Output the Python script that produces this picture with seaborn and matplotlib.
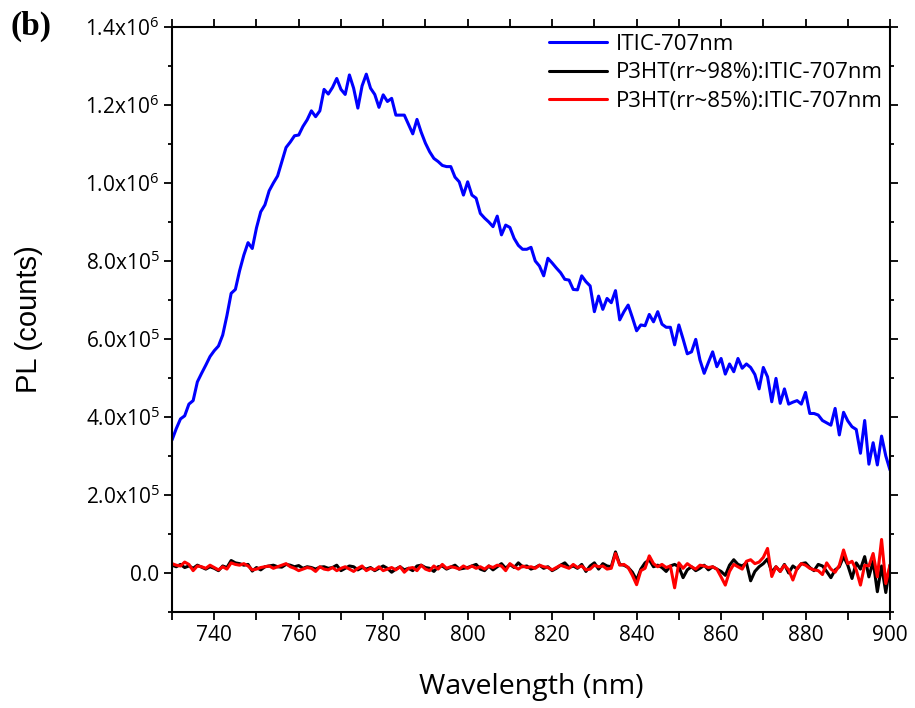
import matplotlib
matplotlib.use("Agg")
import numpy as np
import pandas as pd
import matplotlib.pyplot as plt
import matplotlib.ticker as mticker
import seaborn as sns

# wavelength grid (nm)
wavelength = list(range(730, 901))

# ITIC-707nm PL, in units of 1e5 counts (730..900 nm)
itic = [3.41, 3.70, 3.95, 4.03, 4.33, 4.42, 4.90, 5.12, 5.33, 5.55,
        5.70, 5.82, 6.10, 6.60, 7.17, 7.27, 7.75, 8.15, 8.47, 8.32,
        8.85, 9.26, 9.44, 9.80, 10.00, 10.18, 10.55, 10.91, 11.05, 11.21,
        11.23, 11.45, 11.62, 11.85, 11.70, 11.85, 12.40, 12.28, 12.45, 12.68,
        12.40, 12.27, 12.77, 12.43, 11.92, 12.49, 12.79, 12.43, 12.27, 11.94,
        12.26, 12.09, 12.17, 11.74, 11.74, 11.74, 11.50, 11.26, 11.63, 11.30,
        11.02, 10.80, 10.63, 10.55, 10.45, 10.42, 10.42, 10.15, 10.03, 9.69,
        10.03, 9.69, 9.61, 9.22, 9.10, 9.00, 8.88, 9.15, 8.67, 8.92,
        8.86, 8.58, 8.40, 8.30, 8.30, 8.35, 8.00, 7.87, 7.62, 8.07,
        7.95, 7.82, 7.70, 7.53, 7.51, 7.27, 7.26, 7.62, 7.47, 7.36,
        6.70, 7.10, 6.76, 7.04, 6.93, 7.24, 6.49, 6.70, 6.87, 6.55,
        6.21, 6.36, 6.34, 6.63, 6.44, 6.70, 6.38, 6.30, 6.30, 5.85,
        6.36, 6.00, 5.62, 5.67, 5.99, 5.46, 5.12, 5.40, 5.67, 5.29,
        5.50, 5.10, 5.36, 5.16, 5.50, 5.25, 5.36, 5.27, 5.09, 4.72,
        5.27, 5.03, 4.39, 4.99, 4.35, 4.72, 4.33, 4.38, 4.42, 4.33,
        4.63, 4.09, 4.09, 4.05, 3.91, 3.85, 3.79, 4.22, 3.54, 4.12,
        3.90, 3.75, 3.68, 3.07, 3.91, 2.79, 3.34, 2.77, 3.51, 3.00,
        2.64]

# P3HT blends, in units of 1e4 counts
p3ht98 = [2.0, 1.6, 2.2, 1.4, 1.8, 1.2, 2.0, 1.5, 1.0, 1.6,
          1.2, 0.6, 1.8, 1.4, 3.2, 2.6, 2.4, 2.0, 2.2, 0.5,
          1.4, 0.8, 1.6, 1.8, 2.0, 1.6, 1.5, 2.2, 2.0, 1.6,
          1.9, 1.2, 1.6, 1.4, 1.0, 1.5, 1.6, 1.2, 1.4, 2.0,
          0.6, 1.2, 1.8, 1.6, 0.8, 1.4, 1.0, 1.4, 0.6, 1.2,
          1.8, 1.2, 0.2, 1.0, 1.6, 0.8, 1.2, 0.6, 1.8, 2.0,
          1.4, 1.2, 0.4, 1.6, 1.8, 1.0, 1.5, 2.0, 1.0, 1.2,
          1.4, 1.8, 2.2, 1.0, 0.6, 1.8, 0.8, 1.6, 2.4, 1.2,
          2.2, 1.4, 2.6, 1.6, 1.8, 1.0, 1.4, 2.0, 1.2, 1.6,
          0.6, 1.2, 2.0, 2.6, 1.4, 1.8, 1.2, 2.2, 0.4, 1.8,
          2.6, 1.0, 2.4, 1.8, 1.6, 5.4, 2.2, 2.0, 1.4, 0.2,
          -1.8, 1.0, 2.6, 3.4, 1.6, 2.0, 1.4, 0.4, 1.8, 2.2,
          1.6, -1.2, 0.8, 1.6, 0.6, 1.2, 2.0, 0.8, 1.6, 1.0,
          0.4, -0.6, 2.0, 3.4, 2.2, 1.8, 2.6, -2.0, 0.4, 1.6,
          2.4, 3.6, 0.2, 1.6, 0.4, 2.2, 0.0, 1.8, 1.0, 2.4,
          2.6, 1.4, 0.6, 2.2, 1.8, 0.4, -1.2, 0.8, 1.6, 4.2,
          2.0, -1.4, 2.6, 1.0, 4.2, -1.0, 3.0, -4.8, 1.8, -5.0,
          2.0]

p3ht85 = [2.4, 2.0, 1.8, 2.8, 2.2, 0.6, 1.8, 1.6, 1.2, 2.0,
          1.4, 0.8, 1.6, 1.0, 2.6, 2.2, 2.0, 2.4, 1.8, 0.8,
          1.0, 1.4, 1.6, 1.8, 1.2, 1.6, 2.0, 2.4, 1.6, 1.2,
          0.6, 1.0, 1.4, 1.2, 0.4, 1.6, 1.0, 0.8, 1.4, 0.6,
          1.2, 1.6, 1.0, 0.4, 1.2, 1.8, 0.6, 1.2, 0.8, 1.6,
          0.6, 1.0, 1.4, 0.8, 1.6, 0.2, 1.2, 1.4, 0.6, 2.0,
          1.0, 0.6, 1.8, 1.0, 2.2, 1.2, 1.6, 1.4, 1.0, 1.8,
          1.2, 1.8, 1.2, 1.6, 1.0, 1.8, 1.4, 2.0, 1.8, 0.6,
          2.4, 1.6, 1.0, 1.8, 1.4, 1.6, 1.2, 2.0, 1.6, 1.4,
          0.8, 1.4, 2.0, 1.6, 1.2, 2.2, 1.4, 1.8, 0.8, 1.0,
          2.0, 1.6, 1.8, 1.0, 1.2, 5.0, 2.0, 2.2, 1.4, -0.6,
          -3.0, 0.6, 1.2, 4.4, 2.4, 1.6, 2.2, 1.4, 1.8, -3.8,
          2.6, 1.2, 2.4, 1.6, 1.0, 2.0, 1.8, 1.4, 1.6, 1.0,
          -1.0, -3.1, 0.4, 2.2, 1.6, 1.0, 3.0, 3.4, 2.4, 2.8,
          4.0, 6.3, -0.9, 1.6, 0.4, 2.0, 0.8, -1.8, 1.2, 2.4,
          2.0, 1.2, 0.8, 0.6, -0.4, 2.6, 1.0, 0.2, 2.0, 5.9,
          2.4, 3.0, 0.8, -3.1, 2.0, 1.8, 5.0, -1.0, 8.6, -2.7,
          2.1]

labels = ["ITIC-707nm", "P3HT(rr~98%):ITIC-707nm", "P3HT(rr~85%):ITIC-707nm"]
colors = ["#0000ff", "#000000", "#ff0000"]

frames = []
for lab, vals, scale in zip(labels, [itic, p3ht98, p3ht85], [1e5, 1e4, 1e4]):
    frames.append(pd.DataFrame({"wl": wavelength,
                                "pl": np.array(vals) * scale,
                                "sample": lab}))
df = pd.concat(frames, ignore_index=True)

sns.set_style("ticks")
plt.rcParams["font.family"] = ["Open Sans", "DejaVu Sans"]
plt.rcParams["mathtext.default"] = "regular"
plt.rcParams["text.color"] = "black"
plt.rcParams["axes.labelcolor"] = "black"
plt.rcParams["xtick.color"] = "black"
plt.rcParams["ytick.color"] = "black"
plt.rcParams["axes.edgecolor"] = "black"

fig = plt.figure(figsize=(9.15, 7.08), dpi=100)
ax = fig.add_axes([0.188, 0.1356, 0.7847, 0.8263])

sns.lineplot(data=df, x="wl", y="pl", hue="sample", hue_order=labels,
             palette=dict(zip(labels, colors)), linewidth=2.2,
             errorbar=None, sort=False, ax=ax)

ax.set_xlim(730, 900)
ax.set_ylim(-1e5, 1.4e6)
ax.xaxis.set_major_locator(mticker.MultipleLocator(20))
ax.xaxis.set_minor_locator(mticker.MultipleLocator(10))
ax.set_yticks(np.arange(0, 1.41e6, 2e5))
ax.yaxis.set_minor_locator(mticker.MultipleLocator(1e5))


def sci_fmt(v, pos):
    if abs(v) < 1:
        return "0.0"
    e = int(np.floor(np.log10(abs(v))))
    return f"{v / 10**e:.1f}x10$^{{{e}}}$"


ax.yaxis.set_major_formatter(mticker.FuncFormatter(sci_fmt))

for s in ax.spines.values():
    s.set_linewidth(1.5)
    s.set_visible(True)
    s.set_color("black")
ax.tick_params(which="both", direction="out", width=1.3, labelsize=15,
               top=True, right=True)
ax.tick_params(axis="x", which="both", length=5.5, pad=4)
ax.tick_params(axis="y", which="major", length=6, pad=3)
ax.tick_params(axis="y", which="minor", length=3)

ax.set_xlabel("Wavelength (nm)", fontsize=20.5)
ax.xaxis.set_label_coords(0.5, -0.105)
ax.set_ylabel("PL (counts)", fontsize=21, family="Liberation Sans")
ax.yaxis.set_label_coords(-0.18, 0.5)

ax.legend(frameon=False, loc="upper right", fontsize=16, handlelength=2.65,
          borderaxespad=0.0, labelspacing=0.35, handletextpad=0.4,
          borderpad=0.3)

fig.text(0.012, 0.985, "(b)", fontsize=24, fontweight="bold",
         family="Liberation Serif", va="top")

fig.savefig("out.png", dpi=100)
